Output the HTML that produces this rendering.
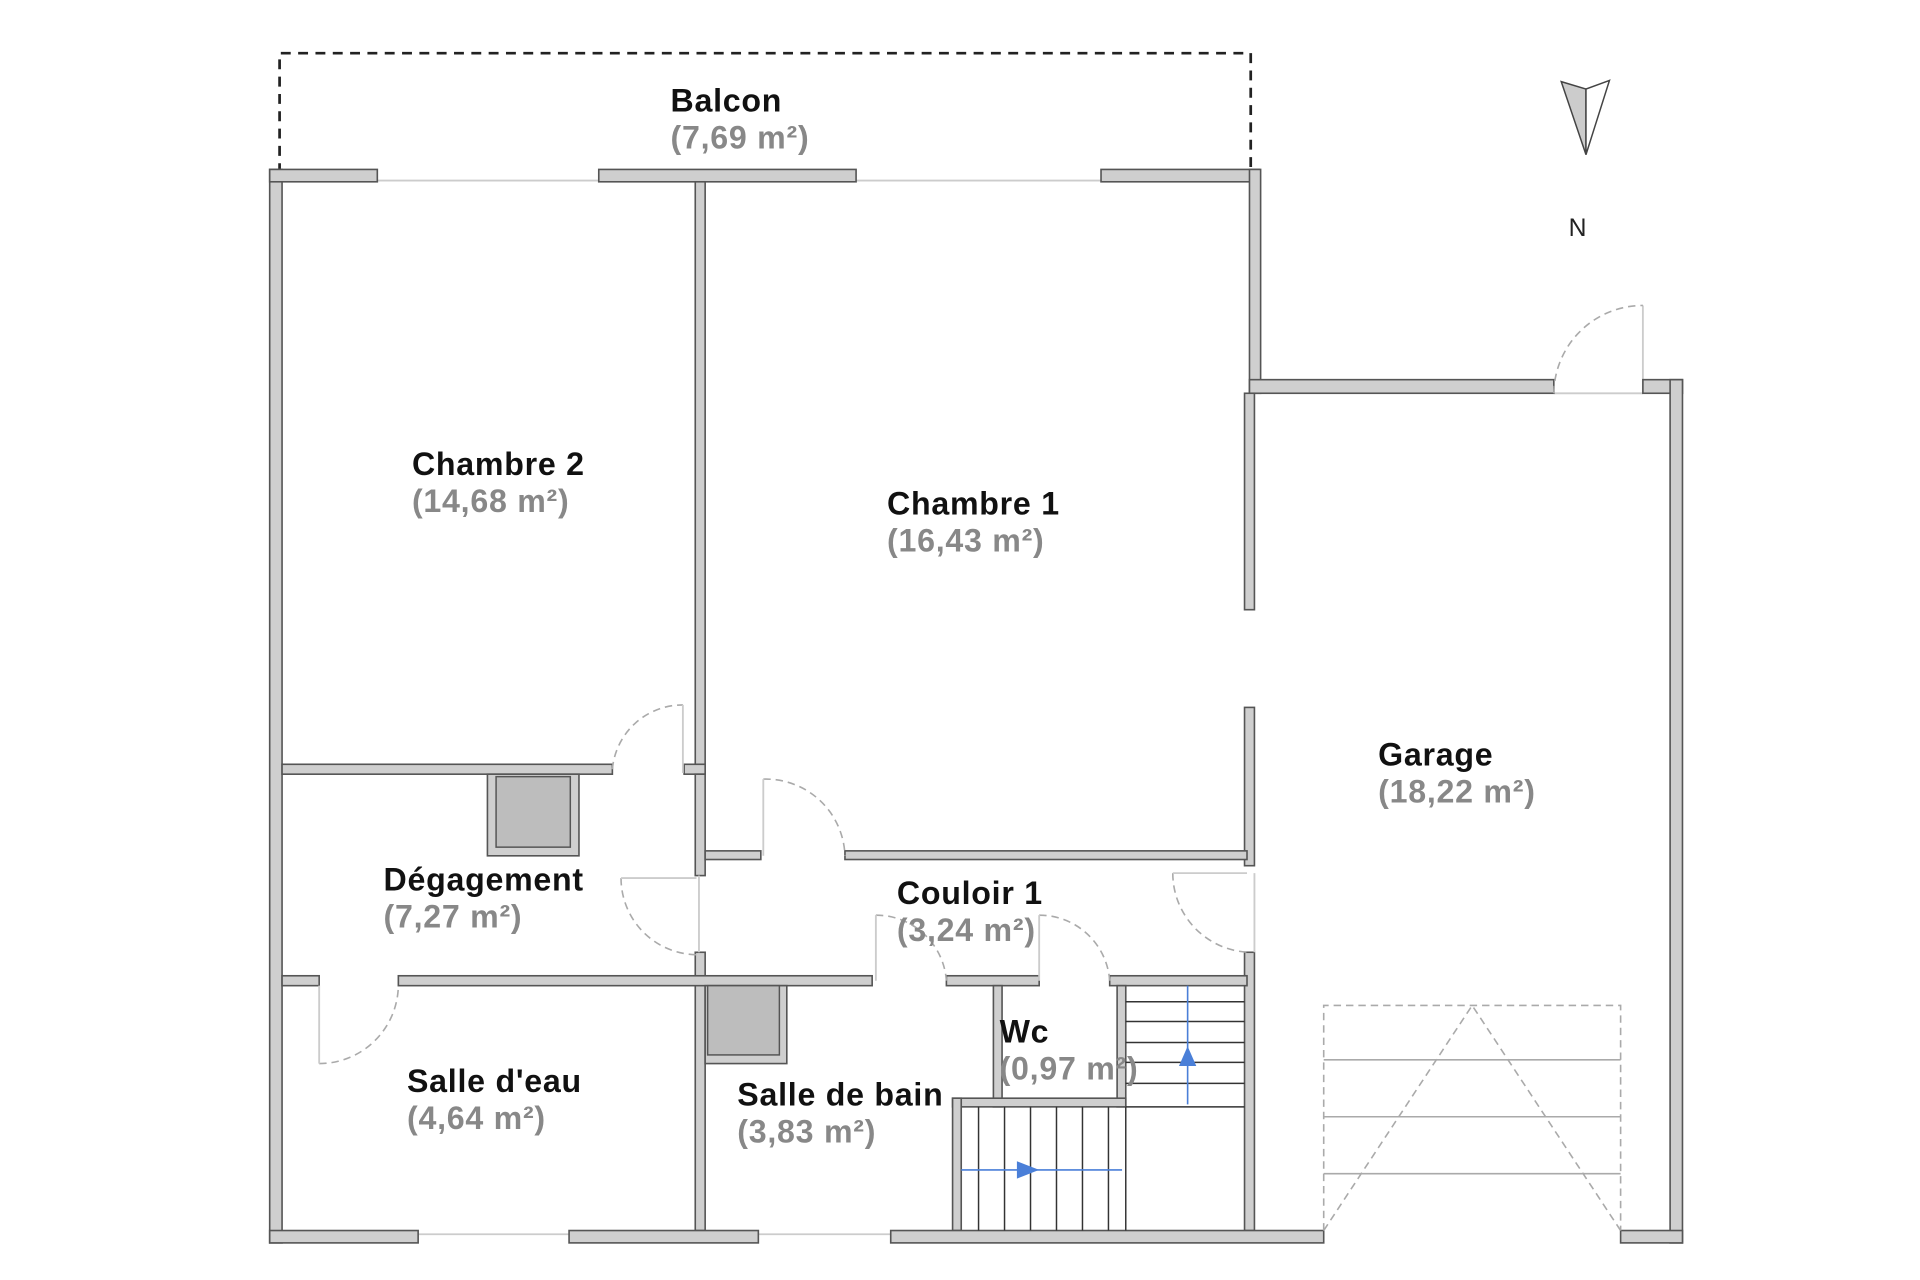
<!DOCTYPE html>
<html><head><meta charset="utf-8"><style>
html,body{margin:0;padding:0;background:#fff;}
svg{display:block;}
.w{fill:#cfcfcf;stroke:#555;stroke-width:1.3;}
.t{font-family:"Liberation Sans",sans-serif;font-weight:bold;font-size:26px;letter-spacing:0.6px;fill:#111;}
.a{font-family:"Liberation Sans",sans-serif;font-weight:bold;font-size:26px;letter-spacing:0.6px;fill:#888;}
.d{fill:none;stroke:#aaa;stroke-width:1.3;stroke-dasharray:6 4;}
.win{stroke:#ccc;stroke-width:1.5;fill:none;}
.st{stroke:#333;stroke-width:1.2;}
</style></head><body>
<svg width="1920" height="1280" viewBox="0 0 1552 1035" preserveAspectRatio="none" xmlns="http://www.w3.org/2000/svg">
<rect width="1552" height="1035" fill="#fff"/>
<path d="M226 140 V43 H1011 V140" fill="none" stroke="#222" stroke-width="2.2" stroke-dasharray="8 6"/>
<line class="win" x1="305" y1="146" x2="484" y2="146"/>
<line class="win" x1="692" y1="146" x2="890" y2="146"/>
<line class="win" x1="338" y1="998" x2="460" y2="998"/>
<line class="win" x1="613" y1="998" x2="720" y2="998"/>
<line class="win" x1="1256" y1="318" x2="1328" y2="318"/>
<line class="win" x1="1328" y1="247" x2="1328" y2="318"/>
<rect class="w" x="218" y="137" width="10" height="868"/>
<rect class="w" x="218" y="137" width="87" height="10"/>
<rect class="w" x="484" y="137" width="208" height="10"/>
<rect class="w" x="890" y="137" width="128" height="10"/>
<rect class="w" x="1010" y="137" width="9" height="181"/>
<rect class="w" x="1010" y="307" width="246" height="11"/>
<rect class="w" x="1328" y="307" width="32" height="11"/>
<rect class="w" x="1350" y="307" width="10" height="698"/>
<rect class="w" x="1006" y="318" width="8" height="175"/>
<rect class="w" x="1006" y="572" width="8" height="128"/>
<rect class="w" x="1006" y="770" width="8" height="225"/>
<rect class="w" x="562" y="147" width="8" height="478"/>
<rect class="w" x="553" y="618" width="17" height="8"/>
<rect class="w" x="562" y="626" width="8" height="82"/>
<rect class="w" x="228" y="618" width="267" height="8"/>
<rect class="w" x="570" y="688" width="45" height="7"/>
<rect class="w" x="683" y="688" width="325" height="7"/>
<rect class="w" x="394" y="626" width="74" height="66"/>
<rect x="401" y="628" width="60" height="57" fill="#bdbdbd" stroke="#555" stroke-width="1.2"/>
<rect class="w" x="562" y="770" width="8" height="225"/>
<rect class="w" x="228" y="789" width="30" height="8"/>
<rect class="w" x="322" y="789" width="383" height="8"/>
<rect class="w" x="765" y="789" width="75" height="8"/>
<rect class="w" x="897" y="789" width="111" height="8"/>
<rect class="w" x="570" y="797" width="66" height="63"/>
<rect x="572" y="797" width="58" height="56" fill="#bdbdbd" stroke="#555" stroke-width="1.2"/>
<rect class="w" x="803" y="797" width="7" height="98"/>
<rect class="w" x="903" y="797" width="7" height="98"/>
<rect class="w" x="770" y="888" width="140" height="7"/>
<rect class="w" x="770" y="888" width="7" height="107"/>
<rect class="w" x="218" y="995" width="120" height="10"/>
<rect class="w" x="460" y="995" width="153" height="10"/>
<rect class="w" x="720" y="995" width="350" height="10"/>
<rect class="w" x="1310" y="995" width="50" height="10"/>
<g class="st">
<line x1="910" y1="810" x2="1006" y2="810"/><line x1="910" y1="826" x2="1006" y2="826"/>
<line x1="910" y1="843" x2="1006" y2="843"/><line x1="910" y1="859" x2="1006" y2="859"/>
<line x1="910" y1="876" x2="1006" y2="876"/><line x1="910" y1="895" x2="1006" y2="895"/>
</g>
<line x1="960" y1="797" x2="960" y2="893" stroke="#4a7fd8" stroke-width="1.3"/>
<polygon points="953,862 967,862 960,846" fill="#4a7fd8"/>
<g class="st">
<line x1="791" y1="895" x2="791" y2="995"/><line x1="812" y1="895" x2="812" y2="995"/>
<line x1="833" y1="895" x2="833" y2="995"/><line x1="854" y1="895" x2="854" y2="995"/>
<line x1="875" y1="895" x2="875" y2="995"/><line x1="896" y1="895" x2="896" y2="995"/>
<line x1="910" y1="895" x2="910" y2="995"/>
</g>
<line x1="777" y1="946" x2="907" y2="946" stroke="#4a7fd8" stroke-width="1.3"/>
<polygon points="822,939 822,953 840,946" fill="#4a7fd8"/>
<g fill="none" stroke="#aaa" stroke-width="1.3">
<path d="M1070 995 V813 H1310 V995" stroke-dasharray="6 4"/>
<line x1="1070" y1="857" x2="1310" y2="857"/>
<line x1="1070" y1="903" x2="1310" y2="903"/>
<line x1="1070" y1="949" x2="1310" y2="949"/>
<path d="M1070 995 L1190 813 L1310 995" stroke-dasharray="6 4"/>
</g>
<path class="d" d="M1256 318 A72 72 0 0 1 1328 247"/>
<path class="d" d="M495 622 A57 57 0 0 1 552 570"/><line class="win" x1="552" y1="570" x2="552" y2="625"/>
<path class="d" d="M617 630 A64 64 0 0 1 683 692"/><line class="win" x1="617" y1="630" x2="617" y2="692"/>
<path class="d" d="M502 710 A62 62 0 0 0 563 772"/><line class="win" x1="502" y1="710" x2="563" y2="710"/>
<path class="d" d="M258 860 A64 64 0 0 0 322 797"/><line class="win" x1="258" y1="797" x2="258" y2="860"/>
<path class="d" d="M708 740 A57 57 0 0 1 765 793"/><line class="win" x1="708" y1="740" x2="708" y2="793"/>
<path class="d" d="M840 740 A57 57 0 0 1 897 793"/><line class="win" x1="840" y1="740" x2="840" y2="793"/>
<path class="d" d="M948 706 A64 64 0 0 0 1010 770"/><line class="win" x1="948" y1="706" x2="1008" y2="706"/>
<line class="win" x1="1014" y1="706" x2="1014" y2="770"/>
<line class="win" x1="565" y1="708" x2="565" y2="770"/>
<polygon points="1262,66 1282,72 1282,125" fill="#ccc" stroke="#444" stroke-width="1.2"/>
<polygon points="1301,65 1282,72 1282,125" fill="#fff" stroke="#444" stroke-width="1.2"/>
<text x="1268" y="191" font-family="Liberation Sans,sans-serif" font-size="20" fill="#222">N</text>
<text class="t" x="542" y="90">Balcon</text><text class="a" x="542" y="120">(7,69 m²)</text>
<text class="t" x="333" y="384">Chambre 2</text><text class="a" x="333" y="414">(14,68 m²)</text>
<text class="t" x="717" y="416">Chambre 1</text><text class="a" x="717" y="446">(16,43 m²)</text>
<text class="t" x="1114" y="619">Garage</text><text class="a" x="1114" y="649">(18,22 m²)</text>
<text class="t" x="310" y="720">Dégagement</text><text class="a" x="310" y="750">(7,27 m²)</text>
<text class="t" x="725" y="731">Couloir 1</text><text class="a" x="725" y="761">(3,24 m²)</text>
<text class="t" x="808" y="843">Wc</text><text class="a" x="808" y="873">(0,97 m²)</text>
<text class="t" x="329" y="883">Salle d'eau</text><text class="a" x="329" y="913">(4,64 m²)</text>
<text class="t" x="596" y="894">Salle de bain</text><text class="a" x="596" y="924">(3,83 m²)</text>
</svg>
</body></html>
